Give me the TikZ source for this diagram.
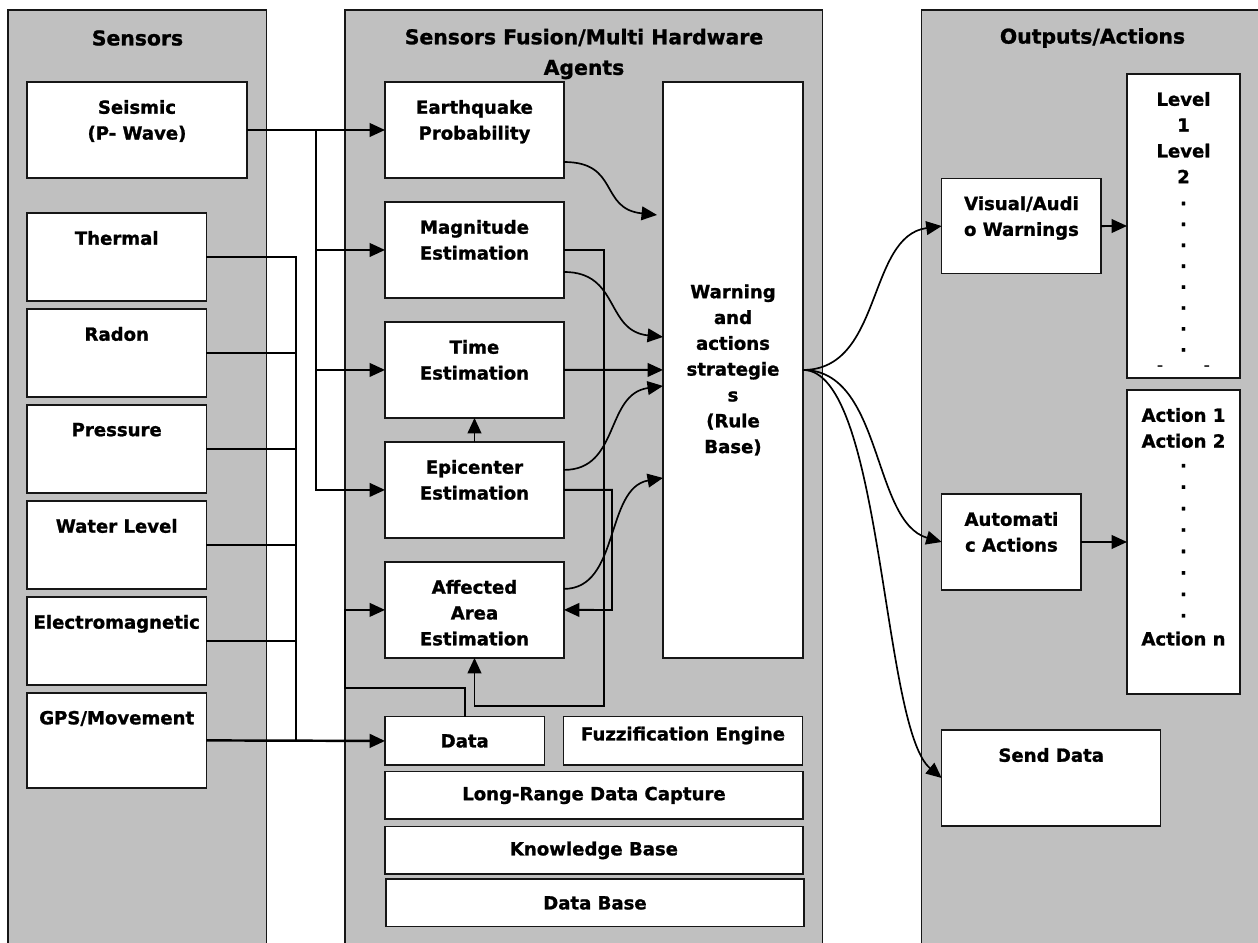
\documentclass[tikz,border=0pt]{standalone}
\usepackage{fontspec}
\setmainfont{DejaVu Sans}[BoldFeatures={FakeBold=1.2}]
\usepackage{tikz}
\usetikzlibrary{arrows.meta}
\usetikzlibrary{calc}
\usetikzlibrary{positioning}
\definecolor{panelgray}{HTML}{C0C0C0}
\definecolor{myblack}{HTML}{161616}
\tikzset{every node/.style={align=center, inner sep=0pt, outer sep=0pt, font={\bfseries\fontsize{10.3}{14.7}\selectfont}}}
\tikzstyle{panel} = [draw=myblack, fill=panelgray, line width=0.8pt, anchor=north west, minimum height=19cm]
\tikzstyle{box} = [draw=myblack, fill=white, line width=0.8pt, anchor=north west]
\tikzstyle{lbl} = [anchor=north, yshift=-0.36cm]
\tikzstyle{title} = [font={\bfseries\fontsize{11.6}{17.4}\selectfont}]
\tikzstyle{wire} = [draw=black, line width=0.9pt]
\tikzstyle{ln} = [draw=black, line width=1.1pt, -{Triangle[length=8.8pt, width=7.8pt]}]

\begin{document}
\begin{tikzpicture}[x=0.02cm, y=-0.02cm,
    sbox/.style={box, minimum width=3.59cm, minimum height=1.76cm},
    ebox/.style={box, minimum width=3.58cm, minimum height=1.92cm},
    wide/.style={box, minimum width=8.36cm, minimum height=0.95cm}]
    \useasboundingbox (0,0) rectangle (1258,943);

    % Panels
    \node[panel, minimum width=5.17cm] (sensP) at (8,10) {};
    \node[panel, minimum width=9.55cm] (fusP) at (345,10) {};
    \node[panel, minimum width=7cm] (outP) at (921.7,10) {};
    \node[title] (sensT) at (137.5,38) {Sensors};
    \node[title] (fusT) at (584,54) {Sensors Fusion/Multi Hardware\\Agents};
    \node[title] (outT) at (1092.5,38) {Outputs/Actions};

    % Sensors
    \node[box, minimum width=4.4cm, minimum height=1.92cm, label={[lbl]north:Seismic\\(P- Wave)}] (seismic) at (27,82) {};
    \node[sbox, label={[lbl]north:Thermal}] (thermal) at (27,213) {};
    \node[sbox, below=0.16cm of thermal, label={[lbl]north:Radon}] (radon) {};
    \node[sbox, below=0.16cm of radon, label={[lbl]north:Pressure}] (pressure) {};
    \node[sbox, below=0.16cm of pressure, label={[lbl]north:Water Level}] (water) {};
    \node[sbox, below=0.16cm of water, label={[lbl]north:Electromagnetic}] (emag) {};
    \node[sbox, minimum height=1.9cm, below=0.16cm of emag, label={[lbl]north:GPS/Movement}] (gps) {};

    % Fusion agents
    \node[ebox, label={[lbl]north:Earthquake\\Probability}] (quake) at (385,82) {};
    \node[ebox, below=0.48cm of quake, label={[lbl]north:Magnitude\\Estimation}] (magn) {};
    \node[ebox, below=0.48cm of magn, label={[lbl]north:Time\\Estimation}] (time) {};
    \node[ebox, below=0.48cm of time, label={[lbl]north:Epicenter\\Estimation}] (epic) {};
    \node[ebox, below=0.48cm of epic, label={[lbl]north:Affected\\Area\\Estimation}] (affect) {};
    \node[box, minimum width=2.8cm, minimum height=11.52cm] (warn) at (663,82) {Warning\\and\\actions\\strategie\\s\\(Rule\\Base)};

    \node[box, minimum width=3.19cm, minimum height=0.97cm] (data) at (385,716.7) {Data};
    \node[box, minimum width=4.79cm, minimum height=0.97cm, label={[lbl, yshift=0.16cm]north:Fuzzification Engine}] (fuzzy) at (563.3,716.7) {};
    \node[wide, below=0.13cm of data.south west, anchor=north west] (capture) {Long-Range Data Capture};
    \node[wide, below=0.15cm of capture.south west, anchor=north west] (knowledge) {Knowledge Base};
    \node[wide, below=0.1cm of knowledge.south west, anchor=north west, xshift=0.02cm] (database) {Data Base};

    % Outputs
    \node[box, minimum width=3.19cm, minimum height=1.91cm, label={[lbl]north:Visual/Audi\\o Warnings}] (visual) at (941.7,178.3) {};
    \node[box, minimum width=2.79cm, minimum height=1.92cm, label={[lbl]north:Automati\\c Actions}] (autom) at (941.7,494) {};
    \node[box, minimum width=4.38cm, minimum height=1.92cm, label={[lbl]north:Send Data}] (send) at (941.7,730) {};
    \node[box, minimum width=2.26cm, minimum height=6.08cm, label={[lbl]north:Level\\1\\Level\\2\\[-2.2pt].\\[-2.8pt].\\[-2.8pt].\\[-2.8pt].\\[-2.8pt].\\[-2.8pt].\\[-2.8pt].\\[-2.8pt].\\[-3.5pt]{\mdseries -\hspace{23pt}-}}] (level) at (1127,74) {};
    \node[box, minimum width=2.26cm, minimum height=6.08cm, label={[lbl]north:Action 1\\Action 2\\[-3.4pt].\\[-2.5pt].\\[-2.5pt].\\[-2.5pt].\\[-2.5pt].\\[-2.5pt].\\[-2.5pt].\\[-2.5pt].\\[1.2pt]Action n}] (action) at (1127,390) {};

    % Sensor lines
    \coordinate (sbus) at (316,130);
    \coordinate (gbus) at (296,741);
    \draw[ln] (seismic.east) -- (quake.west);
    \foreach \t in {magn,time,epic}
        \draw[ln] (sbus) |- (\t.west);
    \foreach \s in {thermal,radon,pressure,water,emag}
        \draw[wire] (\s.east) -| (gbus);
    \draw[ln, line width=1.4pt] (gps.east) -- (data.west);

    % Agent links
    \draw[ln] (epic.north) -- (time.south);
    \draw[ln] (magn.east) -| (604,706) -| (affect.south);
    \draw[ln] (epic.east) -| (612,610) -- (affect.east);
    \draw[ln] (data.north) |- (345,688) |- (affect.west);

    % Into rule base
    \draw[ln, line width=0.95pt] ($(quake.east)+(0,32)$) .. controls +(56,0) and +(-58,-6) .. ($(warn.west)+(-6,-155)$);
    \draw[ln, line width=0.95pt] ($(magn.east)+(0,22)$) .. controls +(56,0) and +(-58,-6) .. ($(warn.west)+(0,-33)$);
    \draw[ln] (time.east) -- (warn.west);
    \draw[ln, line width=0.95pt] ($(epic.east)+(0,-20)$) .. controls +(56,0) and +(-58,8) .. ($(warn.west)+(0,16)$);
    \draw[ln, line width=0.95pt] ($(affect.east)+(0,-21)$) .. controls +(56,0) and +(-58,10) .. ($(warn.west)+(0,108)$);

    % Out of rule base
    \draw[ln, line width=0.95pt] (warn.east) .. controls +(80,0) and +(-75,10) .. (visual.west);
    \draw[ln, line width=0.95pt] (warn.east) .. controls +(80,0) and +(-70,-20) .. (autom.west);
    \draw[ln, line width=0.95pt] (warn.east) .. controls +(80,0) and +(-60,-50) .. (send.west);
    \draw[ln] (visual.east) -- (level.west);
    \draw[ln] (autom.east) -- (action.west);
\end{tikzpicture}
\end{document}
